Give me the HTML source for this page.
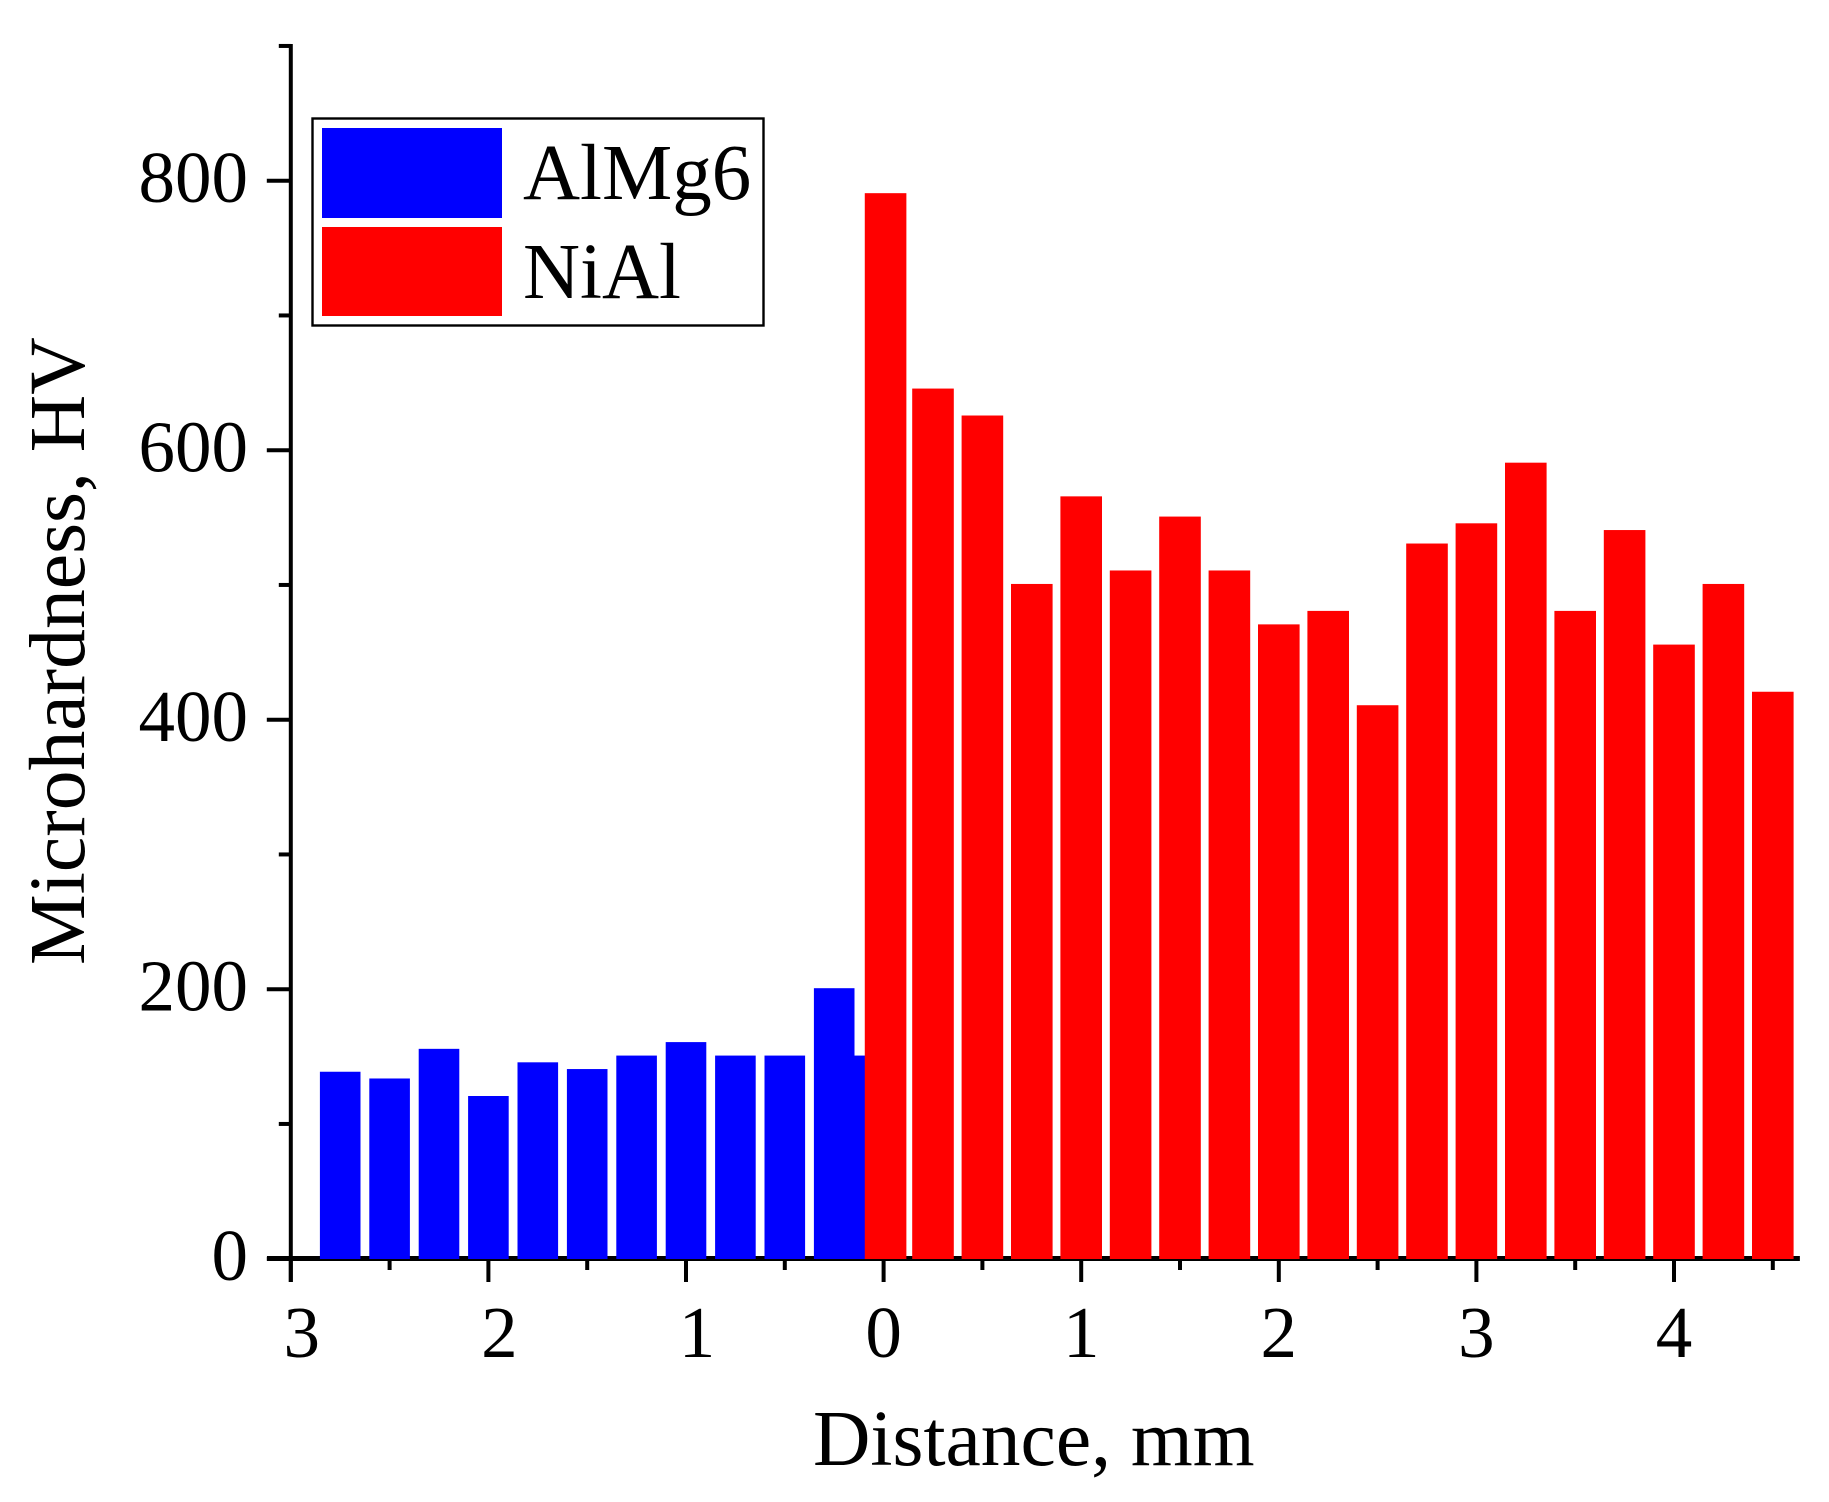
<!DOCTYPE html>
<html lang="en">
<head>
<meta charset="utf-8">
<title>Microhardness vs distance</title>
<style>
  html, body { margin: 0; padding: 0; background: #fff; }
  body { width: 1829px; height: 1502px; overflow: hidden; }
  svg { display: block; }
  text { font-family: "Liberation Serif", "Times New Roman", serif; fill: #000; }
</style>
</head>
<body>
<svg id="chart" xmlns="http://www.w3.org/2000/svg" width="1829" height="1502" viewBox="0 0 1829 1502">
  <rect width="1829" height="1502" fill="#fff"/>
  <g id="axes"></g>
  <g id="bars"></g>
  <text x="84" y="965" font-size="79.6" transform="rotate(-90 84 965)">Microhardness, HV</text>
  <text x="813" y="1465" font-size="79.5">Distance, mm</text>
  <g>
    <rect x="312.5" y="118.5" width="451" height="207" fill="#fff" stroke="#000" stroke-width="2.4"/>
    <rect x="322" y="128" width="180" height="90" fill="#0000ff"/>
    <text x="523" y="199" font-size="79">AlMg6</text>
    <rect x="322" y="227" width="180" height="89" fill="#ff0000"/>
    <text x="523" y="298" font-size="79">NiAl</text>
  </g>
</svg>
<script>
// Chart data
const almg6Positions = [-2.75, -2.5, -2.25, -2, -1.75, -1.5, -1.25, -1, -0.75, -0.5, -0.25, -0.1];
const almg6Values = [138, 133, 155, 120, 145, 140, 150, 160, 150, 150, 200, 150];
const nialPositions = [0.01, 0.25, 0.5, 0.75, 1, 1.25, 1.5, 1.75, 2, 2.25, 2.5, 2.75, 3, 3.25, 3.5, 3.75, 4, 4.25, 4.5];
const nialValues = [790, 645, 625, 500, 565, 510, 550, 510, 470, 480, 410, 530, 545, 590, 480, 540, 455, 500, 420];
const yMajorTicks = [0, 200, 400, 600, 800];
const yMinorTicks = [100, 300, 500, 700, 900];
const xMajorTicks = [-3, -2, -1, 0, 1, 2, 3, 4];
const xMinorTicks = [-2.5, -1.5, -0.5, 0.5, 1.5, 2.5, 3.5, 4.5];
const xTickLabels = ['3', '2', '1', '0', '1', '2', '3', '4'];

const NS = 'http://www.w3.org/2000/svg';
const axes = document.getElementById('axes');
const bars = document.getElementById('bars');

function sx(v) { return 883.6 + v * 197.6; }
function sy(v) { return 1258.7 - v * 1.3475; }

function make(tag, parent, attrs) {
  const el = document.createElementNS(NS, tag);
  for (const k in attrs) el.setAttribute(k, attrs[k]);
  parent.appendChild(el);
  return el;
}

const BLUE_W = 40.6;
const RED_W = 41.6;
const BAR_LIFT = 1;
const BAR_BOTTOM = 1259;

// Axis lines
const yLine = make('line', axes, { x1: sx(-3), x2: sx(-3), y1: sy(900) - 2, y2: 1282, stroke: '#000', 'stroke-width': 4 });


const xLine = make('line', axes, { x1: 267, x2: sx(4.637), y1: 1258.5, y2: 1258.5, stroke: '#000', 'stroke-width': 5 });



// Y ticks
yMajorTicks.forEach(function (v) {
  const t = make('line', axes, { x1: sx(-3) - 24, x2: sx(-3), y1: sy(v), y2: sy(v), stroke: '#000', 'stroke-width': 4 });
  
  
  const l = make('text', axes, { x: 248, y: sy(v) + 21.5, 'font-size': 73, 'text-anchor': 'end' });
  l.textContent = String(v);
  
  
});
yMinorTicks.forEach(function (v) {
  const t = make('line', axes, { x1: sx(-3) - 12, x2: sx(-3), y1: sy(v), y2: sy(v), stroke: '#000', 'stroke-width': 4 });
  
  
});

// X ticks
xMajorTicks.forEach(function (v, i) {
  const t = make('line', axes, { x1: sx(v), x2: sx(v), y1: 1259, y2: 1282, stroke: '#000', 'stroke-width': 4 });
  
  
  const off = v < 0 ? 11 : 0;
  const l = make('text', axes, { x: sx(v) + off, y: 1357, 'font-size': 73, 'text-anchor': 'middle' });
  l.textContent = xTickLabels[i];
  
  
});
xMinorTicks.forEach(function (v) {
  const t = make('line', axes, { x1: sx(v), x2: sx(v), y1: 1259, y2: 1270, stroke: '#000', 'stroke-width': 4 });
  
  
});

// Bars
almg6Values.forEach(function (v, i) {
  const top = sy(v) - BAR_LIFT;
  const b = make('rect', bars, { x: sx(almg6Positions[i]) - BLUE_W / 2, y: top, width: BLUE_W, height: BAR_BOTTOM - top, fill: '#0000ff' });
  
  
});
nialValues.forEach(function (v, i) {
  const top = sy(v) - BAR_LIFT;
  const b = make('rect', bars, { x: sx(nialPositions[i]) - RED_W / 2, y: top, width: RED_W, height: BAR_BOTTOM - top, fill: '#ff0000' });
  
  
});
</script>
</body>
</html>
